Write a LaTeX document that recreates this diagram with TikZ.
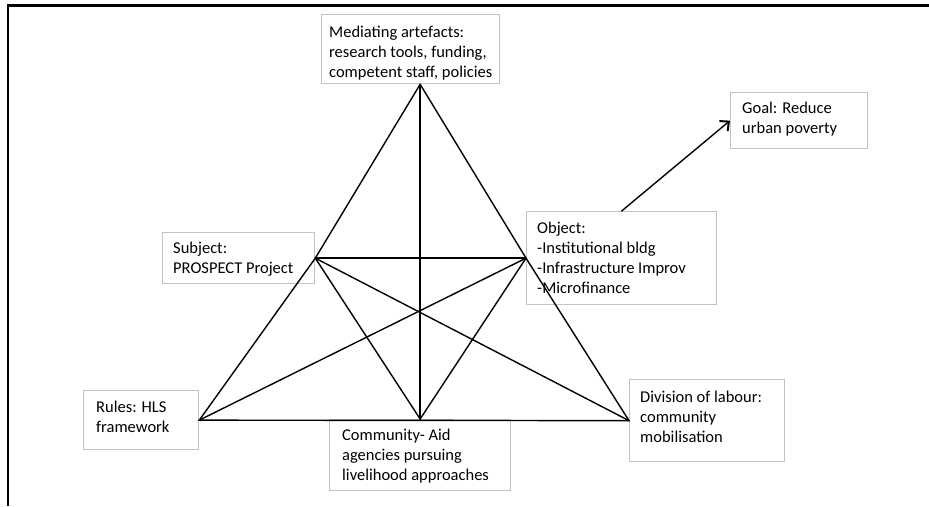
\documentclass[tikz,border=0pt]{standalone}
\usepackage{fontspec}
\setmainfont{Carlito}
\usetikzlibrary{arrows.meta}
\definecolor{boxgray}{RGB}{195,195,195}
\begin{document}
\begin{tikzpicture}[x=1pt,y=1pt,
  box/.style={draw=boxgray, line width=1.3pt, fill=white, anchor=north west,
              inner sep=0pt},
  txt/.style={anchor=west, align=left, inner sep=0pt,
              font=\fontsize{16.5}{20}\selectfont},
  edge/.style={draw=black, line width=1.4pt, line cap=round},
  frame/.style={draw=black, line width=2.2pt}]
\useasboundingbox (0,0) rectangle (929,-506);

% outer frame (top and left rules)
\draw[frame] (8,-506) -- (8,-5.5) -- (929,-5.5);

% boxes
\node[box, minimum width=178pt, minimum height=69pt] (med)   at (321,-14)  {};
\node[box, minimum width=152pt, minimum height=51pt] (subj)  at (162,-232) {};
\node[box, minimum width=190pt, minimum height=93pt] (obj)   at (526,-211) {};
\node[box, minimum width=137pt, minimum height=56pt] (goal)  at (730,-92)  {};
\node[box, minimum width=115pt, minimum height=59pt] (rules) at (83,-390)  {};
\node[box, minimum width=181pt, minimum height=71pt] (comm)  at (329,-419) {};
\node[box, minimum width=155pt, minimum height=82pt] (div)   at (629,-379) {};

% labels
\node[txt] (medtxt)   at (329,-53)    {Mediating artefacts:\\research tools, funding,\\competent staff, policies};
\node[txt] (subjtxt)  at (173,-259)   {Subject:\\PROSPECT Project};
\node[txt] (objtxt)   at (537,-257.5) {Object:\\-Institutional bldg\\-Infrastructure Improv\\-Microfinance};
\node[txt] (goaltxt)  at (742,-119)   {Goal: Reduce\\urban poverty};
\node[txt] (rulestxt) at (96,-417)    {Rules: HLS\\framework};
\node[txt] (commtxt)  at (342,-456.5) {Community- Aid\\agencies pursuing\\livelihood approaches};
\node[txt] (divtxt)   at (640,-416.5) {Division of labour:\\community\\mobilisation};

% activity triangle
\coordinate (apex) at (med.south -| comm.north);
\draw[edge] (apex) -- (subj.east) -- (rules.east) -- (div.west) -- (obj.west) -- (apex);
\draw[edge] (apex) -- (comm.north);
\draw[edge] (subj.east) -- (obj.west);
\draw[edge] (subj.east) -- (comm.north);
\draw[edge] (subj.east) -- (div.west);
\draw[edge] (obj.west) -- (rules.east);
\draw[edge] (obj.west) -- (comm.north);

% object leads to goal
\draw[edge, -{Straight Barb[length=7pt, width=13pt, line width=2pt]}] (obj.north) -- (goal.west);
\end{tikzpicture}
\end{document}
